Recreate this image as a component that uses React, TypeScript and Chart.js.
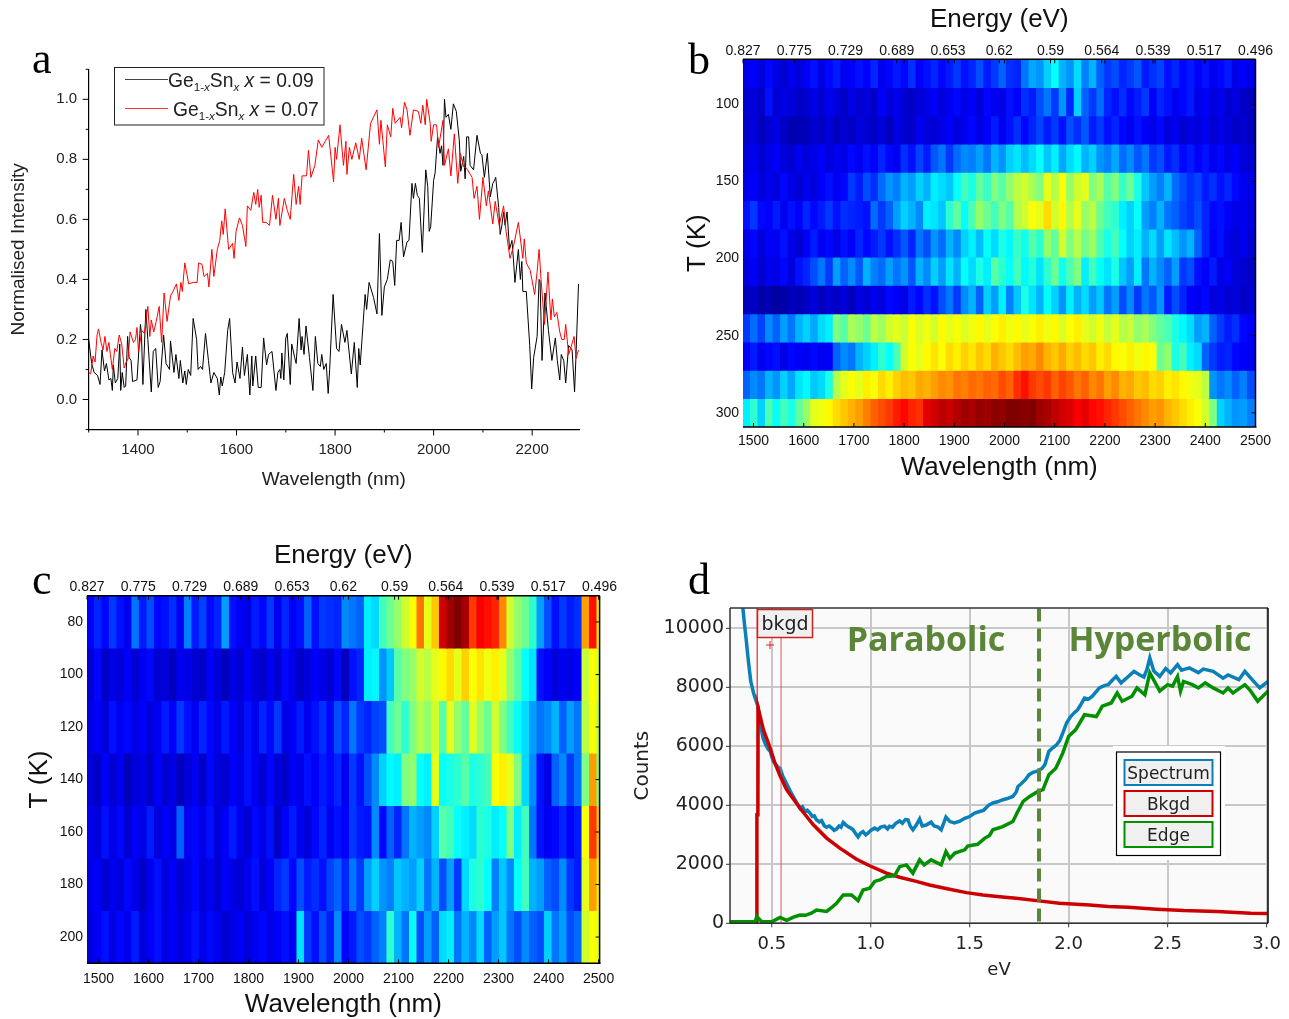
import React, { useEffect, useRef } from "react";
import { Chart, registerables } from "chart.js";

Chart.register(...registerables);

// ---------- panel a: normalised PL spectra, [wavelength nm, intensity] ----------
const traceX009: number[][] = [[1300,.2],[1306,.12],[1311,.09],[1318,.08],[1323,.05],[1327,.165],[1332,.095],[1336,.12],[1341,.065],[1345,.07],[1348,.03],[1350,.115],[1354,.055],[1359,.07],[1363,.185],[1365,.03],[1368,.09],[1372,.04],[1375,.045],[1379,.21],[1382,.14],[1386,.13],[1389,.06],[1398,.065],[1405,.25],[1407,.22],[1410,.05],[1416,.3],[1420,.2],[1427,.025],[1431,.16],[1436,.17],[1441,.04],[1445,.06],[1452,.215],[1457,.12],[1464,.1],[1466,.195],[1473,.09],[1477,.15],[1483,.07],[1486,.13],[1491,.055],[1495,.095],[1498,.05],[1502,.1],[1507,.08],[1512,.27],[1519,.2],[1522,.1],[1527,.11],[1531,.1],[1537,.22],[1543,.13],[1548,.055],[1554,.09],[1561,.07],[1565,.015],[1568,.075],[1571,.045],[1576,.09],[1582,.23],[1586,.27],[1592,.09],[1597,.055],[1601,.125],[1607,.07],[1612,.175],[1616,.08],[1622,.15],[1627,.015],[1631,.145],[1633,.045],[1639,.145],[1644,.04],[1650,.04],[1655,.205],[1661,.115],[1665,.15],[1672,.16],[1680,.03],[1684,.09],[1688,.1],[1690,.07],[1692,.155],[1696,.065],[1700,.205],[1703,.22],[1709,.05],[1712,.185],[1718,.14],[1721,.12],[1727,.27],[1731,.165],[1733,.21],[1737,.15],[1741,.245],[1748,.14],[1755,.03],[1760,.21],[1765,.12],[1770,.11],[1773,.15],[1777,.1],[1782,.12],[1786,.02],[1789,.1],[1796,.35],[1803,.17],[1808,.16],[1813,.25],[1820,.19],[1824,.23],[1833,.085],[1839,.19],[1845,.04],[1848,.17],[1851,.115],[1861,.35],[1864,.3],[1869,.39],[1878,.34],[1885,.285],[1890,.553],[1895,.28],[1900,.375],[1906,.4],[1912,.465],[1917,.46],[1921,.38],[1925,.53],[1930,.53],[1934,.59],[1939,.475],[1946,.525],[1950,.53],[1956,.72],[1959,.67],[1963,.72],[1967,.68],[1971,.67],[1977,.49],[1984,.765],[1988,.71],[1991,.56],[1994,.575],[2000,.73],[2003,.755],[2008,.875],[2013,.82],[2016,.845],[2019,.78],[2022,1],[2025,.94],[2030,.95],[2035,.9],[2040,.985],[2046,.96],[2052,.865],[2055,.76],[2061,.81],[2064,.735],[2067,.875],[2071,.875],[2074,.78],[2081,.765],[2088,.88],[2095,.82],[2098,.815],[2103,.74],[2109,.82],[2115,.675],[2120,.72],[2122,.725],[2126,.74],[2132,.64],[2135,.55],[2138,.575],[2142,.625],[2145,.58],[2149,.625],[2154,.5],[2159,.53],[2162,.465],[2165,.39],[2172,.5],[2176,.4],[2179,.46],[2181,.36],[2188,.36],[2195,.18],[2199,.035],[2203,.14],[2210,.21],[2214,.4],[2216,.395],[2220,.13],[2226,.355],[2233,.23],[2240,.13],[2247,.205],[2251,.13],[2256,.065],[2259,.15],[2264,.13],[2268,.055],[2274,.18],[2281,.165],[2286,.025],[2289,.15],[2294,.385]];
const traceX007: number[][] = [[1300,.09],[1304,.085],[1309,.145],[1313,.125],[1317,.215],[1320,.235],[1325,.19],[1329,.165],[1333,.21],[1337,.16],[1341,.19],[1344,.15],[1348,.1],[1353,.17],[1357,.16],[1362,.215],[1367,.185],[1372,.105],[1376,.125],[1380,.135],[1384,.225],[1391,.19],[1395,.2],[1398,.24],[1401,.16],[1408,.23],[1413,.22],[1420,.31],[1424,.21],[1427,.265],[1432,.225],[1437,.26],[1443,.31],[1448,.19],[1453,.355],[1459,.26],[1466,.345],[1471,.36],[1478,.385],[1483,.33],[1487,.39],[1490,.36],[1495,.455],[1503,.385],[1512,.39],[1520,.39],[1523,.455],[1530,.45],[1534,.41],[1541,.42],[1544,.375],[1550,.5],[1554,.41],[1561,.5],[1566,.53],[1570,.595],[1573,.55],[1577,.635],[1584,.5],[1592,.52],[1595,.47],[1599,.56],[1606,.605],[1612,.58],[1619,.51],[1622,.645],[1629,.63],[1635,.69],[1639,.65],[1643,.7],[1646,.64],[1650,.68],[1653,.59],[1660,.59],[1667,.58],[1673,.68],[1680,.6],[1685,.67],[1688,.58],[1697,.67],[1703,.63],[1709,.6],[1716,.75],[1721,.65],[1726,.71],[1729,.65],[1733,.745],[1742,.745],[1746,.83],[1751,.74],[1759,.78],[1766,.865],[1773,.84],[1780,.86],[1787,.88],[1797,.725],[1800,.84],[1803,.8],[1810,.915],[1817,.78],[1822,.86],[1824,.75],[1829,.84],[1834,.8],[1842,.855],[1849,.8],[1854,.87],[1863,.765],[1872,.92],[1885,.965],[1890,.85],[1893,.93],[1902,.775],[1906,.915],[1913,.875],[1917,.97],[1922,.92],[1932,.94],[1935,.905],[1941,.99],[1946,.965],[1952,.88],[1959,.965],[1969,.96],[1974,.92],[1978,.98],[1983,.915],[1986,1],[1993,.92],[1995,.86],[2000,.915],[2006,.915],[2010,.84],[2019,.93],[2022,.78],[2030,.835],[2035,.745],[2042,.885],[2049,.72],[2054,.82],[2061,.775],[2067,.77],[2078,.74],[2082,.67],[2088,.71],[2093,.6],[2100,.74],[2107,.645],[2111,.695],[2120,.585],[2125,.66],[2133,.58],[2142,.645],[2147,.56],[2155,.47],[2162,.51],[2172,.59],[2181,.47],[2184,.535],[2188,.455],[2196,.43],[2205,.35],[2210,.425],[2214,.5],[2218,.4],[2225,.25],[2232,.425],[2238,.265],[2241,.335],[2245,.275],[2250,.29],[2256,.225],[2260,.2],[2265,.2],[2268,.25],[2274,.15],[2279,.175],[2285,.21],[2289,.137],[2294,.165]];

// ---------- panels b, c: heat maps (jet colour level 0-100 per wavelength bin) ----------
const energyLabels = ["0.827","0.775","0.729","0.689","0.653","0.62","0.59","0.564","0.539","0.517","0.496"];
const wavelengthTicks = [1500,1600,1700,1800,1900,2000,2100,2200,2300,2400,2500];
const tempsB = [80,98.3,116.7,135,153.3,171.7,190,208.3,226.7,245,263.3,281.7,300];
const tempTicksB = [100,150,200,250,300];
const b1 = [10,12,9,13,10,8,11,9,12,14,10,13,15,11,12,14,12,16,11,13,15,13,17,12,14,16,13,15,18,14,16,20,15,18,22,17,16,24,29,27,33,38,30,27,34,25,30,22,18,20,16,18,21,15,17,19,14,16,13,15,12,14,11,13,15,10,12,10];
const b2 = [8,9,7,14,8,10,9,7,8,10,8,11,9,7,10,8,9,7,12,9,11,8,7,9,10,12,9,11,13,10,12,9,13,11,10,14,12,17,15,20,24,18,27,16,33,22,18,23,16,14,17,13,15,18,12,16,14,11,13,15,10,12,9,11,8,9,7,6];
const b3 = [7,9,6,8,10,7,5,5,6,8,7,9,6,8,7,9,8,7,9,6,10,8,7,11,9,8,10,12,9,11,13,10,12,15,11,14,17,13,16,19,15,18,14,20,17,21,15,18,14,16,13,11,14,12,10,13,9,11,8,10,9,11,8,10,9,7,8,6];
const b4 = [9,11,8,10,12,9,8,11,9,10,12,9,11,10,13,11,14,12,16,13,11,17,14,19,15,21,24,18,23,26,25,28,24,30,27,33,35,31,34,38,32,36,29,34,37,30,33,27,25,29,23,26,21,24,18,20,15,17,13,15,12,14,11,13,10,12,9,8];
const b5 = [10,12,9,11,9,13,10,8,11,9,12,14,11,13,18,15,20,17,23,27,25,30,28,33,30,36,34,32,38,44,40,47,43,50,46,52,56,58,54,50,60,55,62,52,58,60,50,54,46,50,43,48,40,32,28,25,30,23,20,17,19,15,17,14,16,13,11,10];
const b6 = [14,18,13,12,15,11,14,12,16,13,15,18,14,17,16,15,14,23,18,22,28,33,30,26,36,35,32,42,47,38,45,52,48,44,50,46,55,58,62,60,66,58,63,55,60,52,56,48,44,42,36,33,38,28,25,30,24,22,19,17,20,16,13,14,12,10,11,9];
const b7 = [10,13,9,12,11,14,10,8,12,15,11,13,10,14,12,16,13,15,18,14,17,21,16,24,20,27,23,30,26,33,36,31,38,34,40,37,43,39,46,42,52,47,58,50,55,49,53,45,40,44,38,33,36,30,34,28,35,31,27,30,22,16,12,14,10,9,11,8];
const b8 = [9,12,8,11,10,13,9,14,16,20,24,18,28,22,26,21,30,25,23,28,24,27,21,30,26,33,28,35,30,38,34,40,36,46,42,38,44,37,41,35,42,48,39,45,50,36,44,38,35,40,32,28,36,24,30,26,22,28,18,20,14,12,15,10,12,9,8,7];
const b9 = [6,7,4,5,3,4,6,5,7,9,6,8,7,9,6,10,8,11,9,13,12,10,15,13,17,14,20,24,18,26,30,22,33,28,36,25,32,40,35,30,38,33,27,36,30,34,28,32,24,28,20,26,18,24,21,27,15,20,16,12,11,13,9,10,8,9,7,8];
const b10 = [18,23,19,26,22,28,24,30,33,29,34,36,50,46,54,52,48,56,53,58,60,57,62,59,61,58,63,60,62,59,61,63,60,62,64,61,63,60,62,64,61,63,59,62,64,60,58,61,57,60,55,57,52,54,50,47,45,40,37,34,28,30,22,18,15,17,13,12];
const b11 = [12,15,11,13,14,10,13,12,11,13,11,12,22,26,24,30,33,36,42,38,45,58,62,60,63,65,62,66,64,67,65,68,66,70,68,66,69,72,71,74,70,68,71,67,69,66,68,64,66,63,62,64,61,63,62,48,52,40,44,36,34,22,18,15,16,13,12,11];
const b12 = [22,26,24,30,27,33,29,35,37,32,34,40,55,60,62,60,64,62,66,64,67,69,68,71,70,72,74,73,76,75,77,76,78,77,80,78,83,86,82,80,82,78,81,79,76,78,74,76,72,74,70,71,68,69,66,67,64,65,63,61,60,56,27,24,26,22,25,20];
const b13 = [36,42,33,45,38,44,40,47,52,60,61,63,66,68,70,72,75,78,80,82,85,87,84,83,90,92,94,93,95,97,96,98,97,99,98,100,100,99,100,97,96,94,92,91,88,90,87,86,84,82,80,78,76,74,72,73,70,68,66,64,62,58,50,33,30,27,28,25];
const rowsB = [b1,b2,b3,b4,b5,b6,b7,b8,b9,b10,b11,b12,b13];

const tempsC = [80,100,120,140,160,180,200];
const c1 = [12,16,13,18,14,11,24,15,20,13,14,17,12,25,15,19,13,16,28,14,12,10,15,13,18,11,16,12,14,22,14,18,17,16,26,24,22,36,34,44,48,52,58,62,76,60,68,92,97,100,96,82,88,86,84,74,58,52,48,42,28,20,14,18,15,17,72,86,64];
const c2 = [8,13,7,10,9,12,8,11,13,8,9,6,11,10,8,7,12,9,6,10,8,12,9,7,11,8,13,10,7,9,12,10,8,13,6,14,16,36,37,27,32,46,50,52,58,56,60,63,66,60,67,62,65,61,64,60,52,46,38,35,14,12,9,11,10,12,57,62,58];
const c3 = [10,12,9,14,11,13,10,12,9,11,15,12,18,14,11,16,13,10,15,12,9,14,11,16,13,18,10,12,15,11,14,17,13,20,16,24,18,16,19,20,44,48,42,50,55,52,58,46,60,52,47,60,53,48,58,50,44,38,34,28,24,26,30,22,28,24,56,62,54];
const c4 = [9,7,12,8,11,6,9,10,7,12,8,10,6,9,11,7,13,9,8,12,10,14,11,8,13,9,7,12,10,14,12,15,13,16,11,18,14,20,26,33,37,36,50,52,38,36,60,38,40,42,46,40,42,44,62,64,60,50,34,26,14,10,22,26,18,24,50,72,50];
const c5 = [11,9,14,10,13,8,12,10,15,9,12,10,22,11,13,10,14,9,12,15,11,8,13,10,14,7,12,15,11,9,13,16,11,14,12,18,15,14,26,13,22,16,24,30,28,26,33,46,44,38,36,34,42,40,36,38,50,36,44,24,14,11,13,16,12,15,62,82,68];
const c6 = [10,12,8,11,9,13,10,7,11,14,9,12,8,10,13,9,11,8,12,10,8,11,14,9,12,16,18,13,20,15,17,14,19,22,16,24,18,28,33,27,25,32,30,28,33,24,30,20,28,18,34,40,42,38,25,32,26,38,44,30,28,22,20,26,18,15,60,72,64];
const c7 = [9,12,14,10,13,11,15,9,12,14,10,12,9,11,14,10,13,11,8,10,12,9,11,13,10,12,14,11,35,18,14,20,15,26,13,15,20,18,22,25,42,30,24,38,20,28,22,34,36,24,30,26,34,22,28,32,24,20,26,22,20,33,24,28,20,23,58,62,60];
const rowsC = [c1,c2,c3,c4,c5,c6,c7];

// ---------- panel d: EELS-style spectrum, [eV, counts] ----------
const spectrumD: number[][] = [[.354,10690],[.362,10150],[.371,9610],[.377,9200],[.383,8820],[.389,8480],[.394,8200],[.401,8000],[.408,7810],[.418,7600],[.43,7360],[.438,7000],[.445,6700],[.452,6400],[.458,6230],[.47,6050],[.482,5900],[.492,5830],[.5,5650],[.508,5490],[.52,5400],[.53,5300],[.542,5260],[.555,5000],[.57,4800],[.592,4500],[.61,4280],[.625,4100],[.643,3900],[.655,3950],[.668,3780],[.68,3830],[.693,3740],[.705,3620],[.715,3640],[.726,3510],[.74,3440],[.752,3480],[.765,3310],[.777,3260],[.79,3300],[.805,3220],[.815,3150],[.827,3190],[.84,3300],[.85,3260],[.861,3420],[.875,3330],[.89,3260],[.9,3230],[.911,3170],[.924,3040],[.936,2930],[.948,3050],[.961,3110],[.975,3000],[.987,3060],[1,3150],[1.02,3230],[1.035,3170],[1.05,3260],[1.07,3290],[1.085,3200],[1.095,3290],[1.11,3260],[1.125,3380],[1.146,3470],[1.16,3390],[1.175,3520],[1.188,3510],[1.2,3290],[1.213,3170],[1.23,3330],[1.247,3540],[1.26,3300],[1.28,3330],[1.305,3430],[1.32,3300],[1.34,3260],[1.356,3170],[1.38,3600],[1.4,3450],[1.423,3400],[1.45,3460],[1.475,3560],[1.5,3620],[1.525,3740],[1.55,3790],[1.57,3830],[1.595,4000],[1.617,4080],[1.64,4120],[1.668,4190],[1.69,4230],[1.718,4300],[1.735,4450],[1.744,4640],[1.76,4730],[1.78,4860],[1.8,5040],[1.82,5120],[1.845,5170],[1.865,5250],[1.88,5380],[1.9,5830],[1.92,5950],[1.94,6060],[1.955,6200],[1.97,6450],[1.99,6800],[2.01,7010],[2.03,7150],[2.045,7240],[2.06,7400],[2.08,7640],[2.1,7600],[2.12,7700],[2.155,7980],[2.18,8060],[2.2,8090],[2.22,8240],[2.24,8370],[2.265,8150],[2.29,8300],[2.33,8540],[2.36,8420],[2.38,8350],[2.395,8600],[2.41,9000],[2.43,8550],[2.46,8370],[2.49,8640],[2.515,8490],[2.55,8770],[2.57,8580],[2.61,8660],[2.655,8500],[2.68,8620],[2.73,8540],[2.78,8310],[2.805,8420],[2.86,8260],[2.89,8540],[2.92,8310],[2.965,7980],[3.007,8200]];
const bkgdD: number[][] = [[.424,0],[.425,3680],[.43,3680],[.431,7300],[.458,6560],[.492,5940],[.515,5450],[.542,5000],[.575,4530],[.643,3900],[.71,3340],[.777,2890],[.844,2550],[.928,2170],[.995,1950],[1.079,1700],[1.146,1560],[1.23,1420],[1.297,1300],[1.38,1180],[1.483,1040],[1.567,960],[1.651,900],[1.735,850],[1.85,760],[1.953,680],[2.105,620],[2.2,570],[2.3,540],[2.445,480],[2.58,430],[2.75,400],[2.92,340],[3.01,330]];
const edgeD: number[][] = [[.289,50],[.415,50],[.425,230],[.45,50],[.5,50],[.542,200],[.575,100],[.61,210],[.643,280],[.67,270],[.7,340],[.726,450],[.777,400],[.8,520],[.827,680],[.861,960],[.903,960],[.936,770],[.961,1130],[.995,1190],[1.02,1420],[1.05,1480],[1.079,1590],[1.12,1610],[1.146,1920],[1.18,1980],[1.213,1700],[1.247,2150],[1.27,1980],[1.305,2150],[1.356,1980],[1.38,2430],[1.4,2200],[1.425,2380],[1.475,2490],[1.49,2620],[1.54,2680],[1.575,2880],[1.6,2980],[1.617,3170],[1.667,3280],[1.718,3450],[1.743,3790],[1.77,4130],[1.803,4300],[1.845,4470],[1.87,4530],[1.9,5040],[1.935,5260],[1.97,5770],[2,6340],[2.035,6560],[2.08,7070],[2.14,7010],[2.17,7360],[2.215,7470],[2.245,7810],[2.27,7530],[2.32,7700],[2.345,7980],[2.385,7750],[2.41,8490],[2.46,7870],[2.5,8090],[2.525,8040],[2.55,8370],[2.565,7870],[2.58,8200],[2.625,8090],[2.655,7980],[2.69,8150],[2.73,7980],[2.78,7810],[2.805,7980],[2.83,7810],[2.89,8090],[2.92,7870],[2.955,7530],[3.007,7870]];
const dividerEv = 1.85;
const bkgdWindow = [0.427, 0.547];
const countTicks = [0,2000,4000,6000,8000,10000];
const evTicks = [0.5,1,1.5,2,2.5,3];

// ---------- helpers ----------
const SANS = "'Liberation Sans', Arial, sans-serif";
const DEJA = "'DejaVu Sans', sans-serif";

function jet(level: number): string {
  const v = Math.max(0, Math.min(1, level / 100));
  const ramp = (a: number) => Math.round(255 * Math.max(0, Math.min(1, 1.5 - Math.abs(4 * v - a))));
  return `rgb(${ramp(3)},${ramp(2)},${ramp(1)})`;
}

const fixedTicks = (values: number[]) => (s: any) => { s.ticks = values.map((value) => ({ value })); };
const pinW = (w: number) => (s: any) => { s.width = w; };
const pinH = (h: number) => (s: any) => { s.height = h; };

type Box = { cx: number; cy: number; cw: number; ch: number; l: number; t: number; r: number; b: number };
const boxA: Box = { cx: 0, cy: 30, cw: 620, ch: 470, l: 88.7, t: 69.3, r: 579, b: 429.5 };
const boxB: Box = { cx: 640, cy: 0, cw: 649, ch: 490, l: 743, t: 59.3, r: 1255.5, b: 427 };
const boxC: Box = { cx: 0, cy: 530, cw: 640, ch: 489, l: 87, t: 595.7, r: 599.6, b: 963.3 };
const boxD: Box = { cx: 625, cy: 590, cw: 690, ch: 410, l: 730, t: 608, r: 1268, b: 923.3 };

function layoutOf(b: Box) {
  return { autoPadding: false, padding: { left: 0, top: 0, right: b.cx + b.cw - b.r, bottom: 0 } };
}

function richText(ctx: any, x: number, y: number, s: number, parts: [string, string?][]) {
  let cx = x;
  for (const [txt, kind] of parts) {
    const small = kind === "sub" || kind === "subi";
    const italic = kind === "i" || kind === "subi";
    ctx.font = `${italic ? "italic " : ""}${small ? s * 0.6 : s}px ${SANS}`;
    ctx.fillText(txt, cx, small ? y + s * 0.22 : y);
    cx += ctx.measureText(txt).width;
  }
}

function tickStroke(ctx: any, x0: number, y0: number, x1: number, y1: number) {
  ctx.beginPath(); ctx.moveTo(x0, y0); ctx.lineTo(x1, y1); ctx.stroke();
}

function heatOptions(box: Box, tempTicks: number[], xMin: number, xMax: number, tMin: number, tMax: number, o: any) {
  return {
    responsive: false, maintainAspectRatio: false, animation: false as const,
    layout: layoutOf(box),
    plugins: { legend: { display: false }, tooltip: { enabled: false } },
    scales: {
      x: {
        type: "linear", position: "bottom", min: xMin, max: xMax, offset: false,
        afterBuildTicks: fixedTicks(wavelengthTicks), afterFit: pinH(box.cy + box.ch - box.b),
        grid: { display: false, drawTicks: false }, border: { display: false },
        ticks: { autoSkip: false, maxRotation: 0, padding: o.xPad, color: "#111", font: { family: SANS, size: 14 }, callback: (v: number) => String(v) },
        title: { display: true, text: "Wavelength (nm)", color: "#111", font: { family: SANS, size: 26 }, padding: { top: 0, bottom: o.xTitlePad } },
      },
      xTop: {
        type: "linear", position: "top", min: 0, max: 10, offset: false,
        afterBuildTicks: fixedTicks(energyLabels.map((_, i) => i)), afterFit: pinH(box.t - box.cy),
        grid: { display: false, drawTicks: false }, border: { display: false },
        ticks: { autoSkip: false, maxRotation: 0, padding: o.topPad, color: "#111", font: { family: SANS, size: 14 }, callback: (v: number) => energyLabels[v] },
        title: { display: true, text: "Energy (eV)", color: "#111", font: { family: SANS, size: 26 }, padding: { top: o.topTitlePad, bottom: 0 } },
      },
      y: {
        type: "linear", reverse: true, min: tMin, max: tMax,
        afterBuildTicks: fixedTicks(tempTicks), afterFit: pinW(box.l - box.cx),
        grid: { display: false, drawTicks: false }, border: { display: false },
        ticks: { autoSkip: false, padding: 4, color: "#111", font: { family: SANS, size: 14 }, callback: (v: number) => String(v) },
        title: { display: true, text: "T (K)", color: "#111", font: { family: SANS, size: 26 }, padding: { top: o.yTitlePad, bottom: 0 } },
      },
    },
  };
}

function heatData(rows: number[][], temps: number[], step: number, start: number, binNm: number, thickness: number) {
  return {
    datasets: rows.map((row, r) => ({
      type: "bar",
      data: row.map((_, i) => ({ x: start + binNm * (i + 0.5), y: [temps[r] - step / 2, temps[r] + step / 2] })),
      backgroundColor: row.map(jet),
      barThickness: thickness,
      grouped: false,
      borderWidth: 0,
      xAxisID: "x",
      yAxisID: "y",
    })),
  };
}

const heatPlugin = (tempTicks: number[]) => ({
  id: "heatFrame",
  beforeDatasetsDraw(chart: any) {
    const { ctx, chartArea: a } = chart;
    ctx.save(); ctx.fillStyle = "#0000a0"; ctx.fillRect(a.left, a.top, a.right - a.left, a.bottom - a.top); ctx.restore();
  },
  afterDraw(chart: any) {
    const { ctx, chartArea: a, scales } = chart;
    ctx.save();
    ctx.strokeStyle = "#000"; ctx.lineWidth = 1;
    for (const w of wavelengthTicks) {
      const x = scales.x.getPixelForValue(w);
      tickStroke(ctx, x, a.bottom, x, a.bottom - 4);
      tickStroke(ctx, x, a.top, x, a.top + 4);
    }
    energyLabels.forEach((_, i) => {
      const x = scales.xTop.getPixelForValue(i);
      tickStroke(ctx, x, a.top, x, a.top + 4);
    });
    for (const t of tempTicks) {
      const y = scales.y.getPixelForValue(t);
      tickStroke(ctx, a.right, y, a.right - 4, y);
    }
    ctx.lineWidth = 1.5;
    tickStroke(ctx, a.left, a.top, a.right, a.top);
    tickStroke(ctx, a.left, a.bottom, a.right + 1, a.bottom);
    tickStroke(ctx, a.right, a.top, a.right, a.bottom);
    ctx.restore();
  },
});

export default function App() {
  const refA = useRef<HTMLCanvasElement>(null);
  const refB = useRef<HTMLCanvasElement>(null);
  const refC = useRef<HTMLCanvasElement>(null);
  const refD = useRef<HTMLCanvasElement>(null);

  useEffect(() => {
    const charts: Chart[] = [];

    // panel a
    const xMajorA = [1400,1600,1800,2000,2200];
    const xMinorA = [1300,1500,1700,1900,2100];
    const yMajorA = [0,0.2,0.4,0.6,0.8,1];
    const yMinorA = [-0.1,0.1,0.3,0.5,0.7,0.9,1.1];
    charts.push(new Chart(refA.current!, {
      type: "line",
      data: {
        datasets: [
          { data: traceX009.map(([x, y]) => ({ x, y })), borderColor: "#000", borderWidth: 1, pointRadius: 0, tension: 0, order: 2 },
          { data: traceX007.map(([x, y]) => ({ x, y })), borderColor: "#ff0000", borderWidth: 1, pointRadius: 0, tension: 0, order: 1 },
        ],
      },
      options: {
        responsive: false, maintainAspectRatio: false, animation: false,
        layout: { autoPadding: false, padding: { left: 0, right: boxA.cx + boxA.cw - boxA.r, top: boxA.t - boxA.cy, bottom: 0 } },
        plugins: { legend: { display: false }, tooltip: { enabled: false } },
        scales: {
          x: {
            type: "linear", min: 1300, max: 2295,
            afterBuildTicks: fixedTicks(xMajorA), afterFit: pinH(boxA.cy + boxA.ch - boxA.b),
            grid: { display: false, drawTicks: false }, border: { display: true, color: "#000", width: 1.2 },
            ticks: { autoSkip: false, maxRotation: 0, padding: 11.5, color: "#222", font: { family: SANS, size: 15 }, callback: (v: number) => String(v) },
            title: { display: true, text: "Wavelength (nm)", color: "#222", font: { family: SANS, size: 19 }, padding: { top: 0, bottom: 8.5 } },
          },
          y: {
            type: "linear", min: -0.1, max: 1.1,
            afterBuildTicks: fixedTicks(yMajorA), afterFit: pinW(boxA.l - boxA.cx),
            grid: { display: false, drawTicks: false }, border: { display: true, color: "#000", width: 1.2 },
            ticks: { autoSkip: false, padding: 11.5, color: "#222", font: { family: SANS, size: 15 }, callback: (v: number) => v.toFixed(1) },
            title: { display: true, text: "Normalised Intensity", color: "#222", font: { family: SANS, size: 19 }, padding: { top: 7.5, bottom: 0 } },
          },
        },
      } as any,
      plugins: [{
        id: "legendA",
        afterDraw(chart: any) {
          const { ctx, chartArea: a, scales } = chart;
          ctx.save();
          ctx.strokeStyle = "#000"; ctx.lineWidth = 1;
          for (const v of xMajorA) { const x = scales.x.getPixelForValue(v); tickStroke(ctx, x, a.bottom, x, a.bottom + 6); }
          for (const v of xMinorA) { const x = scales.x.getPixelForValue(v); tickStroke(ctx, x, a.bottom, x, a.bottom + 3); }
          for (const v of yMajorA) { const y = scales.y.getPixelForValue(v); tickStroke(ctx, a.left, y, a.left - 6, y); }
          for (const v of yMinorA) { const y = scales.y.getPixelForValue(v); tickStroke(ctx, a.left, y, a.left - 3, y); }
          ctx.translate(-boxA.cx, -boxA.cy);
          ctx.fillStyle = "#fff"; ctx.fillRect(114, 67, 210, 58);
          ctx.strokeStyle = "#222"; ctx.lineWidth = 1; ctx.strokeRect(114.5, 67.5, 209.5, 57.5);
          ctx.strokeStyle = "#444"; tickStroke(ctx, 125, 79.5, 168, 79.5);
          ctx.strokeStyle = "#ff3030"; tickStroke(ctx, 125, 108.5, 168, 108.5);
          ctx.fillStyle = "#222"; ctx.textBaseline = "alphabetic"; ctx.textAlign = "left";
          const label = (tail: string): [string, string?][] => [["Ge"],["1-","sub"],["x","subi"],["Sn"],["x","subi"],[" "],["x","i"],[" = " + tail]];
          richText(ctx, 168, 87, 19.3, label("0.09"));
          richText(ctx, 173, 116, 19.3, label("0.07"));
          ctx.restore();
        },
      }],
    }));

    // panel b
    charts.push(new Chart(refB.current!, {
      type: "bar",
      data: heatData(rowsB, tempsB, 18.33, 1479, 15, 8) as any,
      options: heatOptions(boxB, tempTicksB, 1479, 2500, 70.8, 309.2, { xPad: 5.6, xTitlePad: 6.4, topPad: 0, topTitlePad: 4.4, yTitlePad: 42.4 }) as any,
      plugins: [heatPlugin(tempTicksB)],
    }));

    // panel c
    charts.push(new Chart(refC.current!, {
      type: "bar",
      data: heatData(rowsC, tempsC, 20, 1477, 15, 8) as any,
      options: heatOptions(boxC, tempsC, 1477, 2502, 70, 210, { xPad: 7.3, xTitlePad: -1.6, topPad: 0.3, topTitlePad: 10.4, yTitlePad: 24.4 }) as any,
      plugins: [heatPlugin(tempsC)],
    }));

    // panel d
    charts.push(new Chart(refD.current!, {
      type: "line",
      data: {
        datasets: [
          { data: spectrumD.map(([x, y]) => ({ x, y })), borderColor: "#0a80b8", borderWidth: 3.5, pointRadius: 0, tension: 0, order: 5 },
          { data: bkgdD.map(([x, y]) => ({ x, y })), borderColor: "#cc0000", borderWidth: 3.5, pointRadius: 0, tension: 0, order: 3 },
          { data: edgeD.map(([x, y]) => ({ x, y })), borderColor: "#009000", borderWidth: 3.5, pointRadius: 0, tension: 0, order: 2 },
          { data: [{ x: bkgdWindow[0], y: 10690 }, { x: bkgdWindow[0], y: 0 }, { x: bkgdWindow[1], y: 0 }, { x: bkgdWindow[1], y: 10690 }], borderColor: "#e05555", borderWidth: 1, pointRadius: 0, tension: 0, order: 4 },
          { data: [{ x: dividerEv, y: 60 }, { x: dividerEv, y: 10690 }], borderColor: "#5b8639", borderWidth: 4, borderDash: [13, 7], pointRadius: 0, tension: 0, order: 1 },
        ],
      },
      options: {
        responsive: false, maintainAspectRatio: false, animation: false,
        layout: { autoPadding: false, padding: { left: 0, right: boxD.cx + boxD.cw - boxD.r, top: boxD.t - boxD.cy, bottom: 0 } },
        plugins: { legend: { display: false }, tooltip: { enabled: false } },
        scales: {
          x: {
            type: "linear", min: 0.289, max: 3.007,
            afterBuildTicks: fixedTicks(evTicks), afterFit: pinH(boxD.cy + boxD.ch - boxD.b),
            grid: { color: "#c8c8c8", lineWidth: 2, drawTicks: false }, border: { display: false },
            ticks: { autoSkip: false, maxRotation: 0, padding: 10, color: "#222", font: { family: DEJA, size: 18 }, callback: (v: number) => v.toFixed(1) },
            title: { display: true, text: "eV", color: "#222", font: { family: DEJA, size: 18 }, padding: { top: 0, bottom: 19 } },
          },
          y: {
            type: "linear", min: 0, max: 10690,
            afterBuildTicks: fixedTicks(countTicks), afterFit: pinW(boxD.l - boxD.cx),
            grid: { color: "#c8c8c8", lineWidth: 2, drawTicks: false }, border: { display: false },
            ticks: { autoSkip: false, padding: 6, color: "#222", font: { family: DEJA, size: 19 }, callback: (v: number) => String(v) },
            title: { display: true, text: "Counts", color: "#222", font: { family: DEJA, size: 20 }, padding: { top: 6, bottom: 0 } },
          },
        },
      } as any,
      plugins: [{
        id: "panelD",
        beforeDraw(chart: any) {
          const { ctx, chartArea: a } = chart;
          ctx.save(); ctx.fillStyle = "#fafafa"; ctx.fillRect(a.left, a.top, a.right - a.left, a.bottom - a.top); ctx.restore();
        },
        afterDraw(chart: any) {
          const { ctx, chartArea: a, scales } = chart;
          ctx.save();
          ctx.strokeStyle = "#333"; ctx.lineWidth = 1;
          for (const v of evTicks) { const x = scales.x.getPixelForValue(v); tickStroke(ctx, x, a.bottom, x, a.bottom + 4); }
          for (const v of countTicks) { const y = scales.y.getPixelForValue(v); tickStroke(ctx, a.left, y, a.left - 4, y); }
          ctx.lineWidth = 1.5;
          tickStroke(ctx, a.left, a.top, a.left, a.bottom);
          tickStroke(ctx, a.left, a.bottom, a.right, a.bottom);
          tickStroke(ctx, a.left, a.top, a.right, a.top);
          ctx.strokeStyle = "#000"; tickStroke(ctx, a.right, a.top, a.right, a.bottom);
          ctx.translate(-boxD.cx, -boxD.cy);
          ctx.textAlign = "center"; ctx.textBaseline = "middle";
          ctx.fillStyle = "#5b8639"; ctx.font = "bold 34px 'Open Sans', sans-serif";
          ctx.fillText("Parabolic", 926, 641);
          ctx.fillText("Hyperbolic", 1160, 641);
          // bkgd label
          ctx.fillStyle = "#f0f0f0"; ctx.fillRect(757.5, 609.5, 55, 28);
          ctx.strokeStyle = "#cc2222"; ctx.lineWidth = 1.5; ctx.strokeRect(757.5, 609.5, 55, 28);
          ctx.fillStyle = "#222"; ctx.font = `19px ${DEJA}`; ctx.fillText("bkgd", 785, 625.5);
          ctx.strokeStyle = "#dd2222"; ctx.lineWidth = 1;
          tickStroke(ctx, 766, 645, 774, 645); tickStroke(ctx, 770, 641, 770, 649);
          // legend
          ctx.fillStyle = "#fff"; ctx.fillRect(1113, 746, 112, 114);
          ctx.strokeStyle = "#000"; ctx.lineWidth = 1.2; ctx.strokeRect(1116.5, 752, 104, 103.5);
          const rows: [string, string, number][] = [["Spectrum", "#0a80b8", 760], ["Bkgd", "#cc0000", 791], ["Edge", "#009000", 822]];
          for (const [name, colour, y] of rows) {
            ctx.fillStyle = "#f0f0f0"; ctx.fillRect(1124.5, y, 88, 25);
            ctx.strokeStyle = colour; ctx.lineWidth = 2; ctx.strokeRect(1124.5, y, 88, 25);
            ctx.fillStyle = "#222"; ctx.font = `17px ${DEJA}`; ctx.fillText(name, 1168.5, y + 14.5);
          }
          ctx.restore();
        },
      }],
    }));

    return () => charts.forEach((c) => c.destroy());
  }, []);

  const canvasStyle = (b: Box): React.CSSProperties => ({ position: "absolute", left: b.cx, top: b.cy, width: b.cw, height: b.ch, display: "block" });
  const letter = (txt: string, left: number, baseline: number) => (
    <div style={{ position: "absolute", left, top: baseline - 37, font: "44px/44px 'Liberation Serif', serif", color: "#000" }}>{txt}</div>
  );

  return (
    <div style={{ position: "absolute", left: 0, top: 0, width: 1289, height: 1019, background: "#fff", overflow: "hidden" }}>
      <canvas ref={refA} width={boxA.cw} height={boxA.ch} style={canvasStyle(boxA)} />
      <canvas ref={refB} width={boxB.cw} height={boxB.ch} style={canvasStyle(boxB)} />
      <canvas ref={refC} width={boxC.cw} height={boxC.ch} style={canvasStyle(boxC)} />
      <canvas ref={refD} width={boxD.cw} height={boxD.ch} style={canvasStyle(boxD)} />
      {letter("a", 32, 74)}
      {letter("b", 688, 75)}
      {letter("c", 32, 595)}
      {letter("d", 688, 595)}
    </div>
  );
}
